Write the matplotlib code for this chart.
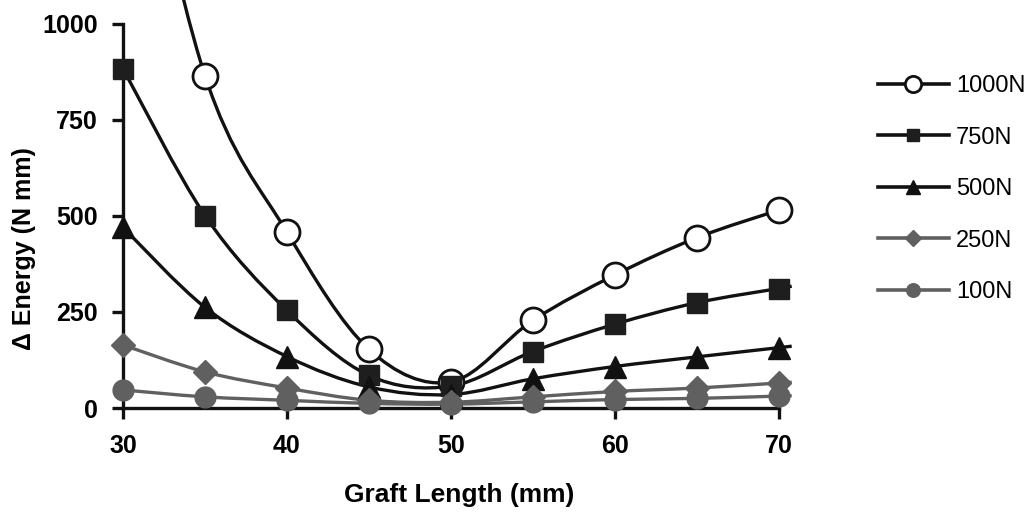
import numpy as np
import matplotlib
matplotlib.use("Agg")
import matplotlib.pyplot as plt
from matplotlib.path import Path
from matplotlib.patches import PathPatch
from matplotlib.lines import Line2D

# Graft length (mm) and change in energy (N mm) for each applied load
graft_length = [30, 35, 40, 45, 50, 55, 60, 65, 70]
energy_1000N = [1750, 865, 458, 153, 68, 228, 346, 443, 515]
energy_750N = [883, 501, 254, 85, 57, 147, 218, 274, 311]
energy_500N = [470, 262, 134, 55, 35, 76, 108, 133, 157]
energy_250N = [164, 94, 52, 20, 15, 29, 43, 52, 65]
energy_100N = [47, 29, 20, 12, 10, 16, 22, 25, 31]

series_labels = ["1000N", "750N", "500N", "250N", "100N"]
x_ticks = [30, 40, 50, 60, 70]
y_ticks = [0, 250, 500, 750, 1000]

BLACK = "#111111"
GRAY = "#606060"

styles = [
    dict(marker="o", mfc="white", mec=BLACK, color=BLACK, ms=18, mew=2.0),
    dict(marker="s", mfc="#1e1e1e", mec="#1e1e1e", color=BLACK, ms=14, mew=1.0),
    dict(marker="^", mfc=BLACK, mec=BLACK, color=BLACK, ms=16, mew=1.0),
    dict(marker="D", mfc=GRAY, mec=GRAY, color=GRAY, ms=12, mew=1.0),
    dict(marker="o", mfc=GRAY, mec=GRAY, color=GRAY, ms=15, mew=1.0),
]

plt.rcParams["font.family"] = ["Liberation Sans", "DejaVu Sans"]

fig = plt.figure(figsize=(10.31, 5.12), dpi=100)
ax = fig.add_axes([123 / 1031, 104 / 512, 672 / 1031, 408 / 512])


def smooth_path(xs, ys, overrun=0.8):
    """Cubic Bezier through the points (Catmull-Rom style tangents)."""
    p = np.column_stack([xs, ys]).astype(float)
    n = len(p)
    verts = [p[0]]
    codes = [Path.MOVETO]
    for i in range(n - 1):
        p0 = p[i - 1] if i > 0 else p[i]
        p1 = p[i]
        p2 = p[i + 1]
        p3 = p[i + 2] if i + 2 < n else p[i + 1]
        c1 = p1 + (p2 - p0) / 6.0
        c2 = p2 - (p3 - p1) / 6.0
        verts += [c1, c2, p2]
        codes += [Path.CURVE4] * 3
    # short run-out past the last point along the end tangent
    d = p[-1] - p[-2]
    verts.append(p[-1] + d * (overrun / d[0]))
    codes.append(Path.LINETO)
    return Path(verts, codes)


all_series = [energy_1000N, energy_750N, energy_500N, energy_250N, energy_100N]
handles = []
for vals, st, lab in zip(all_series, styles, series_labels):
    patch = PathPatch(smooth_path(graft_length, vals), facecolor="none",
                      edgecolor=st["color"], lw=2.4, clip_on=False, zorder=2)
    ax.add_patch(patch)
    ax.plot(graft_length, vals, ls="none", marker=st["marker"], ms=st["ms"],
            mfc=st["mfc"], mec=st["mec"], mew=st["mew"], clip_on=False, zorder=3)
    handles.append(Line2D([], [], color=st["color"], lw=2.6, marker=st["marker"],
                          ms=st["ms"] * 0.65, mfc=st["mfc"], mec=st["mec"],
                          mew=st["mew"], label=lab))

ax.set_xlim(30, 71)
ax.set_ylim(0, 1062)
ax.spines["top"].set_visible(False)
ax.spines["right"].set_visible(False)
for s in ("left", "bottom"):
    ax.spines[s].set_linewidth(2.4)
    ax.spines[s].set_color(BLACK)
ax.spines["left"].set_bounds(0, 1000)
ax.spines["bottom"].set_bounds(30, 70)

ax.set_xticks(x_ticks)
ax.set_yticks(y_ticks)
ax.tick_params(axis="both", direction="out", length=8, width=2.4, color=BLACK,
               labelsize=18)
ax.tick_params(axis="x", pad=11)
ax.tick_params(axis="y", pad=10)
for t in ax.get_xticklabels() + ax.get_yticklabels():
    t.set_fontweight("bold")

ax.set_xlabel("Graft Length (mm)", fontsize=19, fontweight="bold", labelpad=18)
ax.set_ylabel("\u0394 Energy (N mm)", fontsize=18, fontweight="bold")
ax.yaxis.set_label_coords(-0.13, 0.39)

fig.legend(handles=handles, loc="upper left", bbox_to_anchor=(878 / 1031, 1 - 75 / 512),
           frameon=False, fontsize=17, handlelength=3.0, handletextpad=0.3,
           labelspacing=1.25, borderpad=0, borderaxespad=0)

fig.savefig("out.png", dpi=100)
